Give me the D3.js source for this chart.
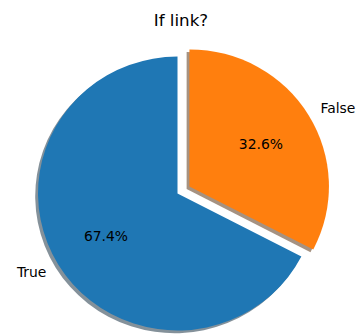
<!DOCTYPE html>
<html>
<head>
<meta charset="utf-8">
<script src="https://cdn.jsdelivr.net/npm/d3@7"></script>
<style>
  html, body { margin: 0; padding: 0; background: #fff; }
  svg { display: block; }
  text { font-family: "DejaVu Sans", sans-serif; fill: #000; }
</style>
</head>
<body>
<svg id="chart" width="360" height="336"></svg>
<script>
// Share of records that contain a link
const categories = ["True", "False"];
const shares = [67.4, 32.6];
const colors = ["#1f77b4", "#ff7f0e"];
const title = "If link?";

const W = 360, H = 336;
const cx = 177.5, cy = 193.5;   // pie centre
const rx = 139.5, ry = 137;     // radii (axes are slightly wider than tall)
const explodeFalse = 0.1;        // pull-out of the second slice, in radius units
const shadowOff = 0.02;          // drop-shadow offset, in radius units

const svg = d3.select("#chart");

// Slices start at 12 o'clock and run counter-clockwise
const pie = d3.pie().sort(null).value(d => d.v)
  .startAngle(0).endAngle(-2 * Math.PI);
const data = categories.map((c, i) => ({ c, v: shares[i], color: colors[i], explode: i === 1 ? explodeFalse : 0 }));
const arcs = pie(data);

const arc = d3.arc().innerRadius(0).outerRadius(1);
const mid = a => (a.startAngle + a.endAngle) / 2;
// unit-space point at angle a (d3 convention) and distance r
const ux = (a, r) => Math.sin(a) * r;
const uy = (a, r) => -Math.cos(a) * r;
const toX = u => cx + u * rx;
const toY = u => cy + u * ry;

function shade(hex) {
  const c = d3.rgb(hex);
  return d3.rgb(c.r * 0.3, c.g * 0.3, c.b * 0.3);
}

const g = svg.append("g");

// shadows below all wedges
arcs.forEach(a => {
  const ox = ux(mid(a), a.data.explode) - shadowOff;
  const oy = uy(mid(a), a.data.explode) + shadowOff;
  g.append("path")
    .attr("d", arc(a))
    .attr("fill", shade(a.data.color))
    .attr("fill-opacity", 0.5)
    .attr("transform", `translate(${toX(ox)},${toY(oy)}) scale(${rx},${ry})`);
});

// wedges
arcs.forEach(a => {
  const ox = ux(mid(a), a.data.explode);
  const oy = uy(mid(a), a.data.explode);
  g.append("path")
    .attr("d", arc(a))
    .attr("fill", a.data.color)
    .attr("transform", `translate(${toX(ox)},${toY(oy)}) scale(${rx},${ry})`);
});

// category labels outside, percentages inside
arcs.forEach(a => {
  const m = mid(a);
  const ex = a.data.explode;
  const lx = ux(m, 1.1 + ex), ly = uy(m, 1.1 + ex);
  svg.append("text")
    .attr("x", toX(lx)).attr("y", toY(ly))
    .attr("text-anchor", lx < 0 ? "end" : "start")
    .attr("dominant-baseline", "central")
    .attr("font-size", 13.9)
    .text(a.data.c);
  const px = ux(m, 0.6 + ex), py = uy(m, 0.6 + ex);
  svg.append("text")
    .attr("x", toX(px)).attr("y", toY(py))
    .attr("text-anchor", "middle")
    .attr("dominant-baseline", "central")
    .attr("font-size", 13.9)
    .text(a.data.v.toFixed(1) + "%");
});

svg.append("text")
  .attr("x", 181).attr("y", 26)
  .attr("text-anchor", "middle")
  .attr("font-size", 16.7)
  .text(title);
</script>
</body>
</html>
